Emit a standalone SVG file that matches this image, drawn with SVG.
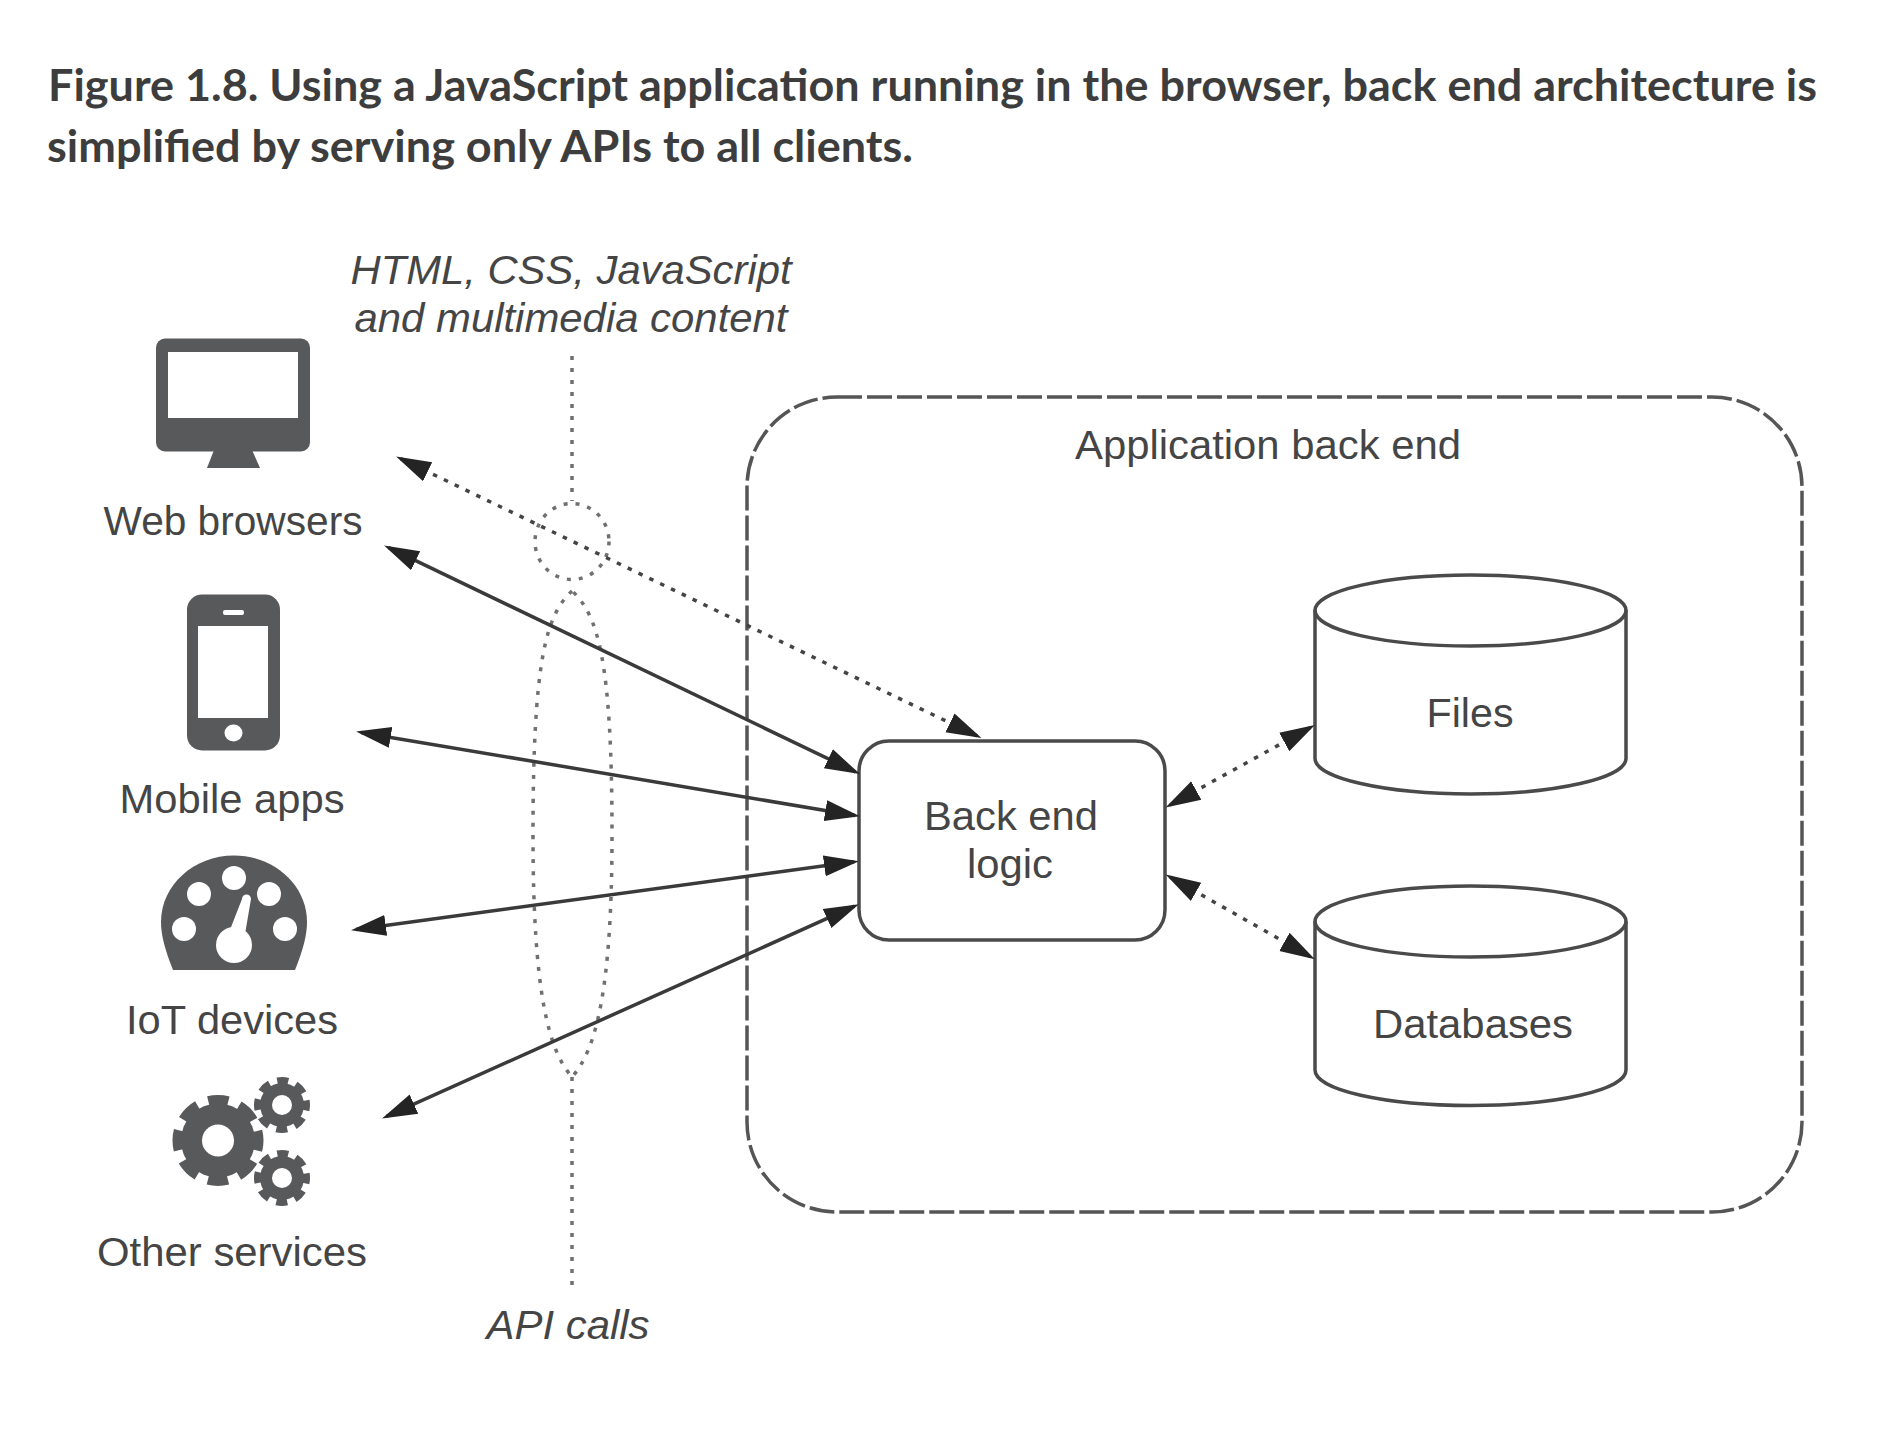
<svg xmlns="http://www.w3.org/2000/svg" width="1888" height="1430" viewBox="0 0 1888 1430">
<style>
.title{font:700 43px "Lato","Liberation Sans",sans-serif;fill:#3d3d3d}
.lbl{font:400 41px "Liberation Sans",Arial,sans-serif;fill:#454545;text-anchor:middle}
.it{font-style:italic}
.icon{fill:#58595b}
.hole{fill:#fff}
.shape{fill:#fff;stroke:#4a4a4a;stroke-width:3.500}
.cyl{fill:none;stroke:#4a4a4a;stroke-width:3.500}
.dash{fill:none;stroke:#555;stroke-width:3.500;stroke-dasharray:25 5}
.dot{fill:none;stroke:#707070;stroke-width:3.500;stroke-dasharray:4 8}
.solid{fill:none;stroke:#3a3a3a;stroke-width:3.500;marker-start:url(#ah);marker-end:url(#ah)}
.dotted{fill:none;stroke:#444;stroke-width:3.500;stroke-dasharray:4.500 7.500;marker-start:url(#ah);marker-end:url(#ah)}
</style>
<defs>
<marker id="ah" markerUnits="userSpaceOnUse" markerWidth="38" markerHeight="26" refX="30" refY="13" orient="auto-start-reverse" viewBox="0 0 38 26"><path d="M0,2.500 L35,13 L0,23.500 Z" fill="#242424"/></marker>
</defs>
<rect width="1888" height="1430" fill="#fff"/>
<g id="title">
<text class="title" x="48" y="101" textLength="1769" lengthAdjust="spacingAndGlyphs">Figure 1.8. Using a JavaScript application running in the browser, back end architecture is</text>
<text class="title" x="47" y="162" textLength="866" lengthAdjust="spacingAndGlyphs">simplified by serving only APIs to all clients.</text>
</g>
<g id="application-back-end">
<rect class="dash" x="747" y="397" width="1055" height="815" rx="90" ry="90"/>
<text class="lbl" x="1268" y="459" textLength="386" lengthAdjust="spacingAndGlyphs">Application back end</text>
</g>
<g id="annotation-lines">
<path class="dot" d="M572,356 V501"/>
<ellipse class="dot" cx="572" cy="541.500" rx="37" ry="38"/>
<path class="dot" d="M572,591 C546,615 533,660 533,835 C533,990 548,1050 572,1077 C596,1050 612,990 612,835 C612,660 598,615 572,591 Z"/>
<path class="dot" d="M572,1077 V1287"/>
<text class="lbl it" x="571" y="284" textLength="441" lengthAdjust="spacingAndGlyphs">HTML, CSS, JavaScript</text>
<text class="lbl it" x="571" y="332" textLength="433" lengthAdjust="spacingAndGlyphs">and multimedia content</text>
<text class="lbl it" x="568" y="1339" textLength="163" lengthAdjust="spacingAndGlyphs">API calls</text>
</g>
<g id="web-browsers">
<rect class="icon" x="156" y="338.500" width="154" height="113" rx="9"/>
<rect class="hole" x="168" y="352" width="130" height="66"/>
<path class="icon" d="M214,450 H252 L260,468 H207 Z"/>
<text class="lbl" x="233" y="535" textLength="259" lengthAdjust="spacingAndGlyphs">Web browsers</text>
</g>
<g id="mobile-apps">
<rect class="icon" x="187" y="594.500" width="93" height="156" rx="15"/>
<rect class="hole" x="198" y="626" width="70" height="92"/>
<rect class="hole" x="223" y="610" width="21" height="5" rx="2"/>
<ellipse class="hole" cx="233.500" cy="733" rx="9" ry="8.500"/>
<text class="lbl" x="232" y="813" textLength="225" lengthAdjust="spacingAndGlyphs">Mobile apps</text>
</g>
<g id="iot-devices">
<path class="icon" d="M173,970 C165,950 161,935 161,922 C161,885 194,855.500 234,855.500 C274,855.500 307,885 307,922 C307,935 303,950 295,970 Z"/>
<circle class="hole" cx="234" cy="878" r="12"/>
<circle class="hole" cx="199" cy="894" r="12"/>
<circle class="hole" cx="269" cy="894" r="12"/>
<circle class="hole" cx="184" cy="929" r="12"/>
<circle class="hole" cx="285" cy="929" r="12"/>
<circle class="hole" cx="234" cy="945" r="18"/>
<path class="hole" d="M226,940 L242,899 A4.500,4.500 0 0 1 251,899 L244,940 Z"/>
<text class="lbl" x="232" y="1034" textLength="212" lengthAdjust="spacingAndGlyphs">IoT devices</text>
</g>
<g id="other-services">
<circle class="icon" cx="218" cy="1140.500" r="37"/>
<circle cx="218" cy="1140.500" r="40" fill="none" stroke="#58595b" stroke-width="11" stroke-dasharray="20 11.416" stroke-dashoffset="10"/>
<circle class="hole" cx="218" cy="1140.500" r="16"/>
<circle class="icon" cx="282" cy="1105" r="22"/>
<circle cx="282" cy="1105" r="24" fill="none" stroke="#58595b" stroke-width="8" stroke-dasharray="11 7.850" stroke-dashoffset="5.500"/>
<circle class="hole" cx="282" cy="1105" r="10"/>
<circle class="icon" cx="282" cy="1178" r="22"/>
<circle cx="282" cy="1178" r="24" fill="none" stroke="#58595b" stroke-width="8" stroke-dasharray="11 7.850" stroke-dashoffset="5.500"/>
<circle class="hole" cx="282" cy="1178" r="10"/>
<text class="lbl" x="232" y="1266" textLength="270" lengthAdjust="spacingAndGlyphs">Other services</text>
</g>
<g id="back-end-logic">
<rect class="shape" x="859" y="741" width="306" height="199" rx="30"/>
<text class="lbl" x="1011" y="830" textLength="174" lengthAdjust="spacingAndGlyphs">Back end</text>
<text class="lbl" x="1010" y="878" textLength="86" lengthAdjust="spacingAndGlyphs">logic</text>
</g>
<g id="files">
<path class="cyl" d="M1315,610 V758.500 C1315,778 1385,794 1470.500,794 C1556,794 1626,778 1626,758.500 V610"/>
<ellipse class="cyl" cx="1470.500" cy="610.500" rx="155.500" ry="35.500"/>
<text class="lbl" x="1470" y="727" textLength="87" lengthAdjust="spacingAndGlyphs">Files</text>
</g>
<g id="databases">
<path class="cyl" d="M1315,921.500 V1070 C1315,1090 1385,1105.500 1470.500,1105.500 C1556,1105.500 1626,1090 1626,1070 V921.500"/>
<ellipse class="cyl" cx="1470.500" cy="921.500" rx="155.500" ry="35.500"/>
<text class="lbl" x="1473" y="1038" textLength="200" lengthAdjust="spacingAndGlyphs">Databases</text>
</g>
<g id="connectors">
<path class="solid" d="M388.600,547.700 L855.400,771.800"/>
<path class="solid" d="M361,732.400 L855,815.500"/>
<path class="solid" d="M356,929.500 L854,861.800"/>
<path class="solid" d="M386.600,1116.400 L854.400,906.200"/>
<path class="dotted" d="M400.600,458.700 L977,735.900"/>
<path class="dotted" d="M1170,805 L1310.500,727.500"/>
<path class="dotted" d="M1170,877 L1310.500,956.700"/>
</g>
</svg>
